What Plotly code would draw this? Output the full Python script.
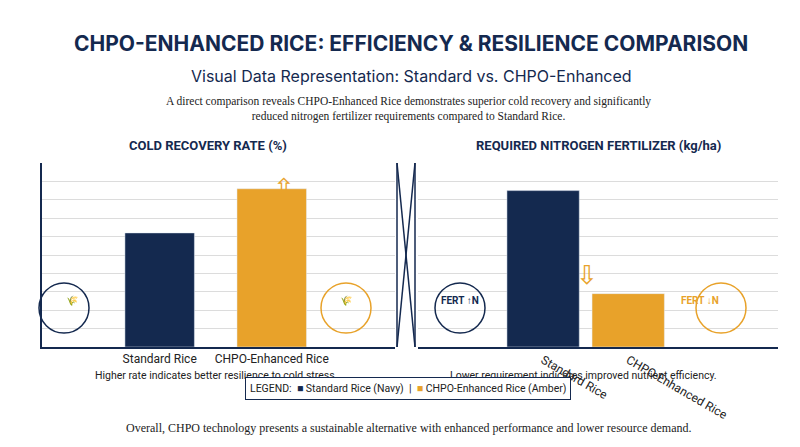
import plotly.graph_objects as go
from plotly.subplots import make_subplots

categories = ['Standard Rice', 'CHPO-Enhanced Rice']
cold_recovery = [62, 86]
nitrogen_fert = [85, 29]
colors = ['#14294f', '#e8a22a']

NAVY = '#14294f'
AMBER = '#e8a22a'
L, R, T, B = 34, 30, 155, 108
PW, PH = 800 - L - R, 447 - T - B


def px(x):
    return (x - L) / PW


def py(y):
    return (447 - B - y) / PH


fig = make_subplots(rows=1, cols=2)
fig.add_trace(go.Bar(x=categories, y=cold_recovery, marker_color=colors, width=0.62,
                     showlegend=False), 1, 1)
fig.add_trace(go.Bar(x=categories, y=nitrogen_fert, marker_color=colors, width=0.85,
                     showlegend=False), 1, 2)

fig.update_yaxes(range=[0, 100], dtick=10, showticklabels=False, gridcolor='#dcdcdc',
                 zeroline=False, showline=True, linecolor=NAVY, linewidth=1.5)
fig.update_xaxes(showline=True, linecolor=NAVY, linewidth=1.5, ticks='',
                 tickfont=dict(family='Roboto', size=12, color='#222'))
fig.update_xaxes(range=[-1.05, 2.1], row=1, col=1)
fig.update_xaxes(range=[-1.47, 2.76], row=1, col=2)
fig.update_yaxes(showline=False, row=1, col=2)

fig.update_layout(
    width=800, height=447, plot_bgcolor='white', paper_bgcolor='white',
    margin=dict(l=L, r=R, t=T, b=B),
    xaxis=dict(domain=[0, px(387)]), xaxis2=dict(domain=[px(410), 1]),
    font=dict(family='Roboto', color='#222'),
)

ann = [
    ('<b>CHPO-ENHANCED RICE: EFFICIENCY & RESILIENCE COMPARISON</b>', 21, NAVY, 'Inter', 403, 35),
    ('Visual Data Representation: Standard vs. CHPO-Enhanced', 16, NAVY, 'Inter', 403, 68),
    ('A direct comparison reveals CHPO-Enhanced Rice demonstrates superior cold recovery and significantly<br>reduced nitrogen fertilizer requirements compared to Standard Rice.', 11.5, '#222', 'Liberation Serif', 400, 101),
    ('<b>COLD RECOVERY RATE (%)</b>', 13, NAVY, 'Roboto', 200, 137),
    ('<b>REQUIRED NITROGEN FERTILIZER (kg/ha)</b>', 13, NAVY, 'Roboto', 590, 137),
    ('Higher rate indicates better resilience to cold stress.', 10.5, '#222', 'Roboto', 208, 367),
    ('Lower requirement indicates improved nutrient efficiency.', 10.5, '#222', 'Roboto', 575, 367),
    ('Overall, CHPO technology presents a sustainable alternative with enhanced performance and lower resource demand.', 12, '#222', 'Liberation Serif', 400, 420),
]
annotations = []
for text, size, col, fam, x, y in ann:
    annotations.append(dict(x=px(x), y=py(y), xref='paper', yref='paper',
                            text=text, showarrow=False, xanchor='center', yanchor='middle',
                            font=dict(size=size, color=col, family=fam)))
annotations.append(dict(x=px(400), y=py(392), xref='paper', yref='paper', showarrow=False,
                        text='LEGEND:  <span style="color:%s">■</span> Standard Rice (Navy)  |  <span style="color:%s">■</span> CHPO-Enhanced Rice (Amber)' % (NAVY, AMBER),
                        font=dict(size=10.5, color='#222', family='Roboto'),
                        bordercolor=NAVY, borderwidth=1, borderpad=4, bgcolor='white'))
for cx, txt, col in [(56, '🌾', NAVY), (338, '🌾', AMBER), (452, 'FERT ↑N', NAVY), (713, 'FERT ↓N', AMBER)]:
    annotations.append(dict(x=px(cx), y=py(300), xref='paper', yref='paper', showarrow=False,
                            text='<b>%s</b>' % txt, font=dict(size=10, color=col)))
annotations.append(dict(x=px(263), y=py(163), xref='paper', yref='paper', showarrow=False,
                        text='⇧', font=dict(size=26, color=AMBER)))
annotations.append(dict(x=px(592), y=py(267), xref='paper', yref='paper', showarrow=False,
                        text='⇩', font=dict(size=26, color=AMBER)))
fig.update_layout(annotations=annotations)

shapes = []
for cx, col in [(56, NAVY), (338, AMBER), (452, NAVY), (713, AMBER)]:
    shapes.append(dict(type='circle', xref='paper', yref='paper',
                       x0=px(cx - 25), x1=px(cx + 25), y0=py(325), y1=py(275),
                       line=dict(color=col, width=1.5)))
for x0, x1 in [(389, 407), (407, 389)]:
    shapes.append(dict(type='line', xref='paper', yref='paper', x0=px(x0), x1=px(x1),
                       y0=py(155), y1=py(339), line=dict(color=NAVY, width=1.5)))
for x0 in [389, 407]:
    shapes.append(dict(type='line', xref='paper', yref='paper', x0=px(x0), x1=px(x0),
                       y0=py(155), y1=py(339), line=dict(color=NAVY, width=1.5)))
fig.update_layout(shapes=shapes)

fig.write_html('out.html')
